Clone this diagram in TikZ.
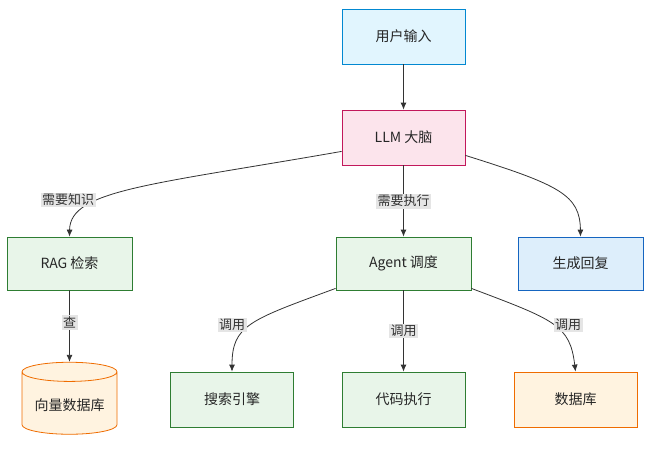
\documentclass[tikz,border=0pt]{standalone}
\usepackage{fontspec}
\setmainfont{Noto Sans CJK SC}
\usetikzlibrary{shapes.geometric,arrows.meta}
\definecolor{bF}{HTML}{E1F5FE}\definecolor{bD}{HTML}{0288D1}
\definecolor{b2F}{HTML}{DDEEFB}\definecolor{b2D}{HTML}{1565C0}
\definecolor{pF}{HTML}{FCE4EC}\definecolor{pD}{HTML}{C2185B}
\definecolor{gF}{HTML}{E8F5E9}\definecolor{gD}{HTML}{2E7D32}
\definecolor{oF}{HTML}{FFF3E0}\definecolor{oD}{HTML}{EF6C00}
\begin{document}
\begin{tikzpicture}[x=1pt,y=-1pt,
 box/.style={draw,line width=0.8pt,minimum width=123pt,minimum height=55pt,font=\fontsize{14}{16}\selectfont,text=black!85},
 lab/.style={fill=black!10,inner sep=1.5pt,font=\fontsize{13}{15}\selectfont,text=black!80},
 e/.style={draw=black!80,line width=0.8pt,-{Latex[length=7pt,width=6pt]}}]
\useasboundingbox (0,0) rectangle (660,448);
\node[box,fill=bF,draw=bD] (in) at (403.5,36.5) {用户输入};
\node[box,fill=pF,draw=pD] (llm) at (403.5,137.5) {LLM 大脑};
\node[box,fill=gF,draw=gD,minimum width=125pt,minimum height=53pt] (rag) at (69.5,263.5) {RAG 检索};
\node[box,fill=gF,draw=gD,minimum width=135pt,minimum height=53pt] (ag) at (403.5,263.5) {Agent 调度};
\node[box,fill=b2F,draw=b2D,minimum width=125pt,minimum height=53pt] (gen) at (580.5,263.5) {生成回复};
\node[cylinder,shape border rotate=90,aspect=0.25,draw=oD,fill=oF,line width=0.8pt,minimum width=95pt,minimum height=72pt,font=\fontsize{14}{16}\selectfont,text=black!85] (vdb) at (69.5,405) {向量数据库};
\node[box,fill=gF,draw=gD] (se) at (232,399.5) {搜索引擎};
\node[box,fill=gF,draw=gD] (ce) at (403.5,399.5) {代码执行};
\node[box,fill=oF,draw=oD] (db) at (575.5,399.5) {数据库};
\draw[e] (in) -- (llm);
\draw[e] (llm.south west)++(0,-14) coordinate (a1) .. controls (150,185) and (70,190) .. (rag.north);
\node[lab] at (68,200) {需要知识};
\draw[e] (llm) -- node[lab]{需要执行} (ag);
\draw[e] (llm.south east)++(0,-10) coordinate (a2) .. controls (560,185) and (580,195) .. (gen.north);
\draw[e] (rag) -- node[lab,pos=0.45]{查} (vdb.north);
\draw[e] (ag.south west)++(0,-2) coordinate (a3) .. controls (250,320) and (232,325) .. (se.north);
\draw[e] (ag) -- node[lab]{调用} (ce);
\draw[e] (ag.south east)++(0,-2) coordinate (a4) .. controls (555,320) and (570,325) .. (db.north);
\node[lab] at (232,325) {调用};
\node[lab] at (568,325) {调用};
\end{tikzpicture}
\end{document}
